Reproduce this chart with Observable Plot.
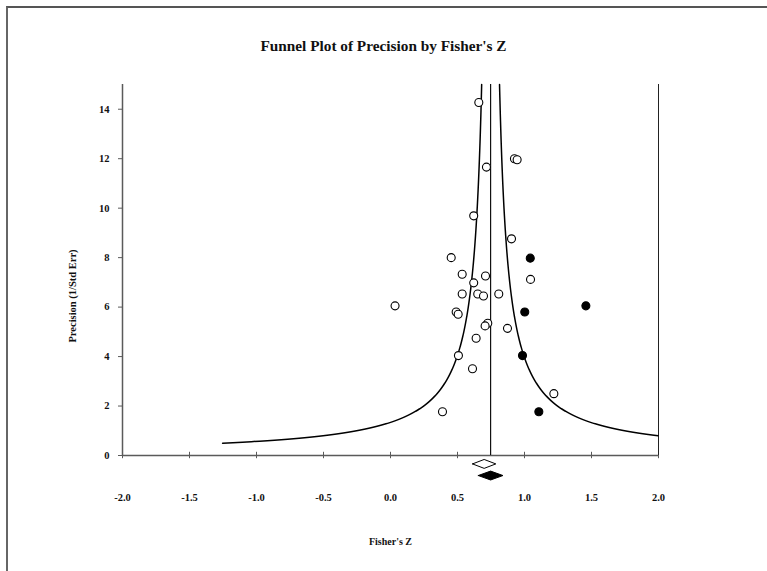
<!DOCTYPE html>
<html>
<head>
<meta charset="utf-8">
<script src="https://cdn.jsdelivr.net/npm/d3@7"></script>
<script src="https://cdn.jsdelivr.net/npm/@observablehq/plot@0.6"></script>
<style>
  html, body { margin: 0; padding: 0; background: #fff; }
  #wrap { position: relative; width: 767px; height: 571px; overflow: hidden; background: #fff; }
  #border { position: absolute; left: 6px; top: 6px; width: 770px; height: 580px;
            border-top: 2px solid #555; border-left: 2px solid #666; box-sizing: border-box; }
  #title { position: absolute; left: 0; top: 37px; width: 767px; text-align: center;
           font-family: "Liberation Serif", serif; font-weight: bold; font-size: 15.3px; color: #111; }
  #chart { position: absolute; left: 0; top: 0; }
</style>
</head>
<body>
<div id="wrap">
  <div id="border"></div>
  <div id="chart"></div>
  <div id="title">Funnel Plot of Precision by Fisher's Z</div>
</div>
<script>
// Observed studies (Fisher's Z, precision = 1/SE)
const studyZ = [0.453, 0.535, 0.709, 0.621, 0.535, 0.651, 0.694, 0.808, 0.034, 0.490,
                0.505, 0.726, 0.706, 0.873, 0.639, 0.507, 0.612, 1.219, 0.388, 1.045,
                0.903, 0.659, 0.925, 0.945, 0.716, 0.621];
const studyPrecision = [8.00, 7.33, 7.26, 6.98, 6.53, 6.53, 6.45, 6.53, 6.05, 5.80,
                        5.71, 5.35, 5.24, 5.14, 4.74, 4.04, 3.51, 2.50, 1.77, 7.12,
                        8.76, 14.27, 12.00, 11.96, 11.66, 9.69];
// Imputed studies (trim and fill)
const imputedZ = [1.043, 1.458, 1.002, 0.985, 1.107];
const imputedPrecision = [7.98, 6.05, 5.80, 4.04, 1.77];
// Summary estimates: observed (open diamond) and adjusted (filled diamond)
const summaryName = ["observed", "adjusted"];
const summaryEst = [0.699, 0.747];
const summaryLower = [0.612, 0.655];
const summaryUpper = [0.786, 0.839];
// Axis ticks
const xTicks = [-2.0, -1.5, -1.0, -0.5, 0.0, 0.5, 1.0, 1.5, 2.0];
const yTicks = [0, 2, 4, 6, 8, 10, 12, 14];
const yMax = 15;
const minPrecisionFunnel = 0.5;

const center = summaryEst[1];

const studies = studyZ.map((z, i) => ({z, p: studyPrecision[i]}));
const imputed = imputedZ.map((z, i) => ({z, p: imputedPrecision[i]}));

// Funnel bounds: center ± 1/precision
const grid = d3.range(minPrecisionFunnel, yMax + 0.0001, 0.02);
const funnelLeft = grid.map(p => ({z: center - 1 / p, p}));
const funnelRight = grid.map(p => ({z: center + 1 / p, p})).filter(d => d.z <= 2);

// Diamond rows (drawn below the axis)
const rowY = [-0.34, -0.81];
const halfH = 0.18;
const diamonds = summaryName.map((name, i) => [
  {z: summaryLower[i], p: rowY[i]},
  {z: summaryEst[i], p: rowY[i] + halfH},
  {z: summaryUpper[i], p: rowY[i]},
  {z: summaryEst[i], p: rowY[i] - halfH},
  {z: summaryLower[i], p: rowY[i]}
]);

const axisColor = "#5a5a5a";

const chart = Plot.plot({
  width: 767,
  height: 571,
  marginLeft: 122,
  marginRight: 109,
  marginTop: 84,
  marginBottom: 116,
  x: {domain: [-2, 2]},
  y: {domain: [0, yMax]},
  style: {fontFamily: "Liberation Serif", fontWeight: "bold", fontSize: "10.5px", color: "#111", background: "transparent"},
  marks: [
    Plot.axisY({ticks: yTicks, tickSize: 4, tickPadding: 9, tickFormat: d => String(d), label: null, stroke: axisColor}),
    Plot.axisX({ticks: xTicks, tickSize: 0, tickPadding: 38, tickFormat: d => d.toFixed(1), label: null}),
    Plot.ruleX(xTicks, {x: d => d, y1: -0.13, y2: 0.13, stroke: axisColor, strokeWidth: 1}),
    Plot.ruleY([0], {x1: -2, x2: 2, stroke: axisColor, strokeWidth: 1.5}),
    Plot.ruleX([-2], {y1: 0, y2: yMax, stroke: axisColor, strokeWidth: 1.5}),
    Plot.ruleX([2], {y1: 0, y2: yMax, stroke: "#222", strokeWidth: 1}),
    Plot.ruleX([center], {y1: 0, y2: yMax, stroke: "#111", strokeWidth: 1.2}),
    Plot.line(funnelLeft, {x: "z", y: "p", stroke: "#000", strokeWidth: 1.5}),
    Plot.line(funnelRight, {x: "z", y: "p", stroke: "#000", strokeWidth: 1.5}),
    Plot.dot(studies, {x: "z", y: "p", r: 4, stroke: "#000", strokeWidth: 1.1, fill: "#fff"}),
    Plot.dot(imputed, {x: "z", y: "p", r: 4, stroke: "#000", strokeWidth: 1.1, fill: "#000"}),
    Plot.line(diamonds[0], {x: "z", y: "p", stroke: "#000", strokeWidth: 1, fill: "#fff"}),
    Plot.line(diamonds[1], {x: "z", y: "p", stroke: "#000", strokeWidth: 1, fill: "#000"}),
    Plot.text(["Fisher's Z"], {frameAnchor: "bottom", dy: 89, fontSize: 10, fontWeight: "bold"}),
    Plot.text(["Precision (1/Std Err)"], {frameAnchor: "left", textAnchor: "middle", dx: -50, dy: 26, rotate: -90, fontSize: 10.5, fontWeight: "bold"})
  ]
});
document.getElementById("chart").appendChild(chart);
</script>
</body>
</html>
